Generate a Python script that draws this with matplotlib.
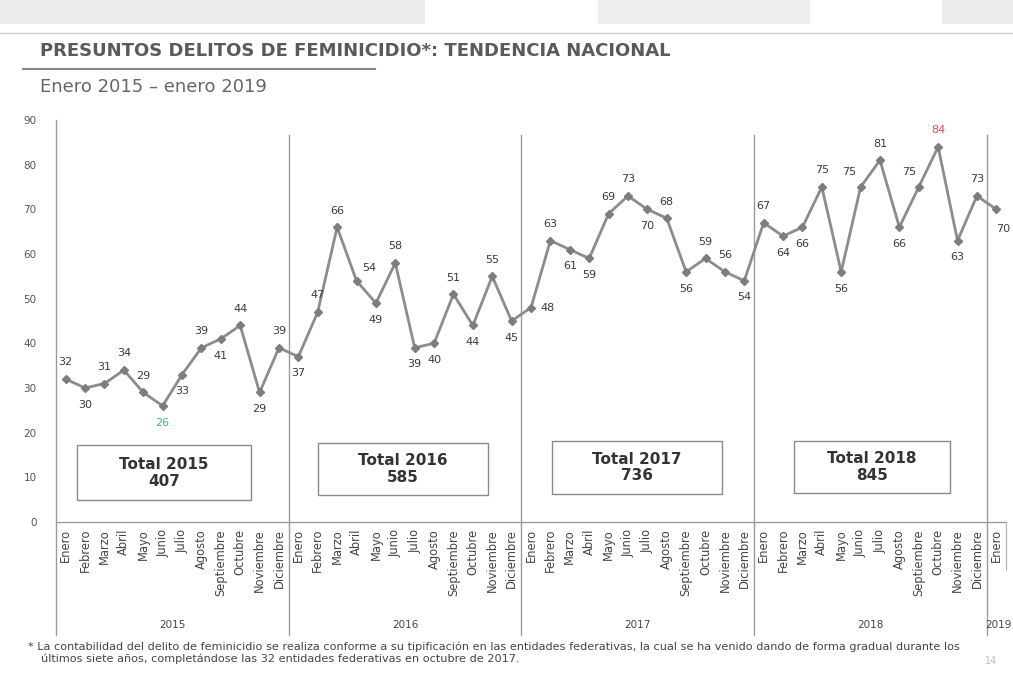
import matplotlib.pyplot as plt
from matplotlib.patches import Rectangle

# datos mensuales (enero 2015 - enero 2019)
meses = ["Enero", "Febrero", "Marzo", "Abril", "Mayo", "Junio", "Julio",
         "Agosto", "Septiembre", "Octubre", "Noviembre", "Diciembre"]
anios = ["2015", "2016", "2017", "2018", "2019"]
valores_2015 = [32, 30, 31, 34, 29, 26, 33, 39, 41, 44, 29, 39]
valores_2016 = [37, 47, 66, 54, 49, 58, 39, 40, 51, 44, 55, 45]
valores_2017 = [48, 63, 61, 59, 69, 73, 70, 68, 56, 59, 56, 54]
valores_2018 = [67, 64, 66, 75, 56, 75, 81, 66, 75, 84, 63, 73]
valores_2019 = [70]
totales = [407, 585, 736, 845]

valores = valores_2015 + valores_2016 + valores_2017 + valores_2018 + valores_2019
etiquetas = meses * 4 + meses[:1]
x = list(range(len(valores)))

# posicion de cada etiqueta de valor (offset en puntos)
arriba = (0, 12)
abajo = (0, -12)
offsets = [arriba, abajo, arriba, arriba, arriba, abajo, abajo, arriba, abajo, arriba, abajo, arriba,
           abajo, arriba, arriba, (9, 9), abajo, arriba, abajo, abajo, arriba, abajo, arriba, abajo,
           (12, 0), arriba, abajo, abajo, arriba, arriba, abajo, arriba, abajo, arriba, arriba, abajo,
           arriba, abajo, abajo, arriba, abajo, (-8, 11), arriba, abajo, (-7, 11), arriba, abajo, arriba,
           (5, -14)]

gris_texto = "#555555"
gris_linea = "#8c8c8c"

fig = plt.figure(figsize=(10.13, 6.73), dpi=100)

# banda superior difuminada
for x0, w, c in [(0.0, 0.42, "#ebebeb"), (0.59, 0.21, "#eeeeee"), (0.93, 0.07, "#ececec")]:
    fig.patches.append(Rectangle((x0, 0.965), w, 0.035, transform=fig.transFigure,
                                 facecolor=c, edgecolor="none", zorder=0))
fig.add_artist(plt.Line2D([0.0, 1.0], [0.951, 0.951], transform=fig.transFigure,
                          color="#cccccc", lw=1))

fig.text(0.0395, 0.924, "PRESUNTOS DELITOS DE FEMINICIDIO*: TENDENCIA NACIONAL",
         fontsize=13, fontweight="bold", color="#5a5a5a", va="center")
fig.add_artist(plt.Line2D([0.023, 0.37], [0.897, 0.897], transform=fig.transFigure,
                          color="#8a8a8a", lw=1.5))
fig.text(0.0395, 0.871, "Enero 2015 – enero 2019", fontsize=13, color="#666666", va="center")

ax = fig.add_axes([0.0553, 0.2244, 0.9378, 0.5973])
ax.set_xlim(-0.5, len(valores) - 0.5)
ax.set_ylim(0, 90)
for s in ax.spines.values():
    s.set_visible(False)
ax.axhline(0, color="#9a9a9a", lw=1, clip_on=False)

ax.plot(x, valores, color=gris_linea, lw=2, marker="D", markersize=4.5,
        markerfacecolor="#7d7d7d", markeredgecolor="#7d7d7d", zorder=3)

for i, v in enumerate(valores):
    color = "#3a3a3a"
    if v == min(valores):
        color = "#35c07a"
    if v == max(valores):
        color = "#e8454b"
    ax.annotate(str(v), (i, v), xytext=offsets[i], textcoords="offset points",
                ha="center", va="center", fontsize=8, color=color, zorder=4)

# divisiones entre anios
ax.axvline(-0.5, ymin=-0.281, ymax=1.0, color="#9a9a9a", lw=1, clip_on=False)
for k in range(1, 5):
    ax.axvline(12 * k - 0.5, ymin=-0.281, ymax=0.963, color="#9a9a9a", lw=1, clip_on=False)
ax.axvline(len(valores) - 0.5, ymin=-0.12, ymax=0.0, color="#b0b0b0", lw=0.8, clip_on=False)

ax.set_xticks(x)
ax.set_xticklabels(etiquetas, rotation=90, fontsize=8.3, color="#444444")
ax.set_yticks(range(0, 91, 10))
ax.tick_params(axis="both", length=0)
ax.tick_params(axis="x", pad=5)
ax.tick_params(axis="y", labelsize=7.5, labelcolor=gris_texto, pad=14)

centros = [5.5, 17.5, 29.5, 41.5, 48.1]
for c, a in zip(centros, anios):
    ax.text(c, -0.257, a, transform=ax.get_xaxis_transform(), ha="center", va="center",
            fontsize=7.5, color="#444444")

# recuadros de totales
cajas = [(0.58, 4.9, 8.98, 12.3), (13.0, 6.0, 8.78, 11.7),
         (25.08, 6.3, 8.77, 11.8), (37.56, 6.5, 8.04, 11.6)]
for (bx, by, bw, bh), a, t in zip(cajas, anios, totales):
    ax.add_patch(Rectangle((bx, by), bw, bh, facecolor="white", edgecolor="#8a8a8a", lw=1, zorder=2))
    ax.text(bx + bw / 2, by + bh / 2, "Total " + a + "\n" + str(t), ha="center", va="center",
            fontsize=11, fontweight="bold", color="#333333", linespacing=1.15, zorder=3)

fig.text(0.028, 0.039, "* La contabilidad del delito de feminicidio se realiza conforme a su tipificación en las "
         "entidades federativas, la cual se ha venido dando de forma gradual durante los",
         fontsize=8.1, color="#444444", va="center")
fig.text(0.04, 0.021, "últimos siete años, completándose las 32 entidades federativas en octubre de 2017.",
         fontsize=8.1, color="#444444", va="center")
fig.text(0.972, 0.018, "14", fontsize=7, color="#bbbbbb", va="center")

fig.savefig("out.png", dpi=100)
